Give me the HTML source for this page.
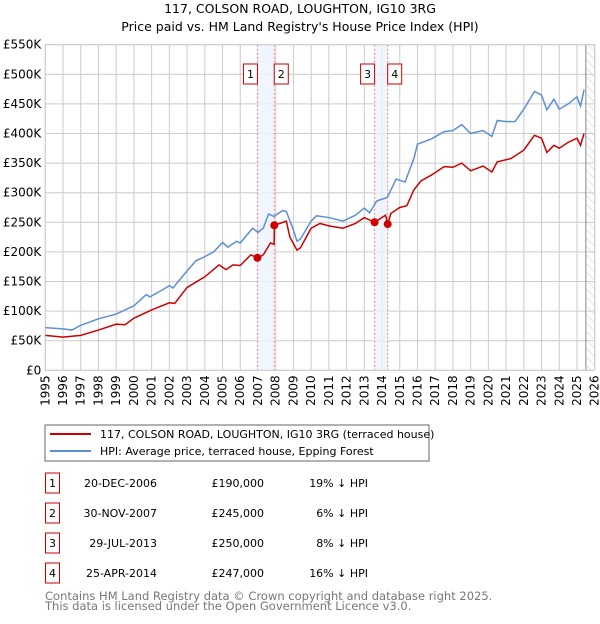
<!DOCTYPE html>
<html><head><meta charset="utf-8"><style>
body{margin:0;background:#fff;font-family:"DejaVu Sans","Liberation Sans",sans-serif;}
svg text{font-family:"DejaVu Sans","Liberation Sans",sans-serif;}
</style></head><body>
<svg id="c" width="600" height="620" xmlns="http://www.w3.org/2000/svg">
<defs><pattern id="hatch" width="6" height="6" patternUnits="userSpaceOnUse" patternTransform="rotate(-45)"><line x1="0" y1="0" x2="0" y2="6" stroke="#ccc" stroke-width="1"/></pattern></defs>
<text x="300" y="13" text-anchor="middle" font-size="12.5">117, COLSON ROAD, LOUGHTON, IG10 3RG</text>
<text x="300" y="31" text-anchor="middle" font-size="12.5">Price paid vs. HM Land Registry's House Price Index (HPI)</text>
<g id="plot"></g>
<rect x="45" y="425" width="384" height="36" fill="#fff" stroke="#666"/>
<line x1="50" y1="434" x2="91" y2="434" stroke="#cc0000" stroke-width="2"/>
<text x="100" y="438" font-size="11">117, COLSON ROAD, LOUGHTON, IG10 3RG (terraced house)</text>
<line x1="50" y1="451" x2="91" y2="451" stroke="#5b8fd6" stroke-width="2"/>
<text x="100" y="455" font-size="11">HPI: Average price, terraced house, Epping Forest</text>
<g id="tbl" font-size="11"></g>
<text x="45" y="600" font-size="11.5" fill="#777">Contains HM Land Registry data © Crown copyright and database right 2025.</text>
<text x="45" y="610" font-size="11.5" fill="#777">This data is licensed under the Open Government Licence v3.0.</text>
</svg>
<script>
const hpiYears=[1995,1996,1996.5,1997,1998,1999,2000,2000.7,2000.9,2001.5,2002,2002.2,2003,2003.5,2004,2004.5,2005,2005.3,2005.8,2006,2006.7,2007,2007.3,2007.6,2007.9,2008.4,2008.6,2009,2009.2,2009.4,2010,2010.3,2011,2011.8,2012.5,2013,2013.3,2013.7,2014.3,2014.8,2015.3,2015.8,2016,2016.8,2017.5,2018,2018.5,2019,2019.7,2020.2,2020.5,2021,2021.5,2022,2022.6,2023,2023.3,2023.7,2024,2024.5,2025,2025.2,2025.4];
const hpiValues=[72,70,68,76,87,95,109,128,124,134,143,139,168,185,192,200,216,208,218,215,240,233,240,264,260,270,268,237,218,222,252,261,258,252,262,274,266,286,292,323,318,358,382,391,403,405,415,400,405,395,422,420,420,441,471,465,440,458,441,450,462,446,474];
const priceYears=[1995,1996,1997,1998,1999,1999.5,2000,2001,2002,2002.3,2003,2004,2004.8,2005.2,2005.6,2006,2006.6,2006.97,2007.3,2007.7,2007.91,2007.93,2008.6,2008.8,2009.2,2009.4,2010,2010.5,2011,2011.8,2012.5,2013,2013.58,2014.2,2014.32,2014.5,2015,2015.4,2015.8,2016.2,2016.8,2017.5,2018,2018.5,2019,2019.7,2020.2,2020.5,2021.3,2022,2022.6,2023,2023.3,2023.7,2024,2024.5,2025,2025.2,2025.4];
const priceValues=[59,56,59,68,78,77,88,102,114,113,140,158,178,170,178,177,195,190,195,215,213,245,252,225,203,207,240,248,244,240,248,258,250,262,247,265,275,278,305,320,330,344,343,350,337,345,335,352,358,372,397,392,368,380,375,385,392,380,400];
const saleYears=[2006.97,2007.92,2013.58,2014.32];
const saleValues=[190,245,250,247];
const saleLabels=["1","2","3","4"];
const saleDates=["20-DEC-2006","30-NOV-2007","29-JUL-2013","25-APR-2014"];
const salePrices=["£190,000","£245,000","£250,000","£247,000"];
const saleHpi=["19% ↓ HPI","6% ↓ HPI","8% ↓ HPI","16% ↓ HPI"];
const yTicks=[0,50,100,150,200,250,300,350,400,450,500,550];
const xTicks=[1995,1996,1997,1998,1999,2000,2001,2002,2003,2004,2005,2006,2007,2008,2009,2010,2011,2012,2013,2014,2015,2016,2017,2018,2019,2020,2021,2022,2023,2024,2025,2026];

const NS="http://www.w3.org/2000/svg";
const X0=45.3,X1=594.7,Y0=370.3,Y1=44.7;
const xs=y=>X0+(y-1995)/(2026-1995)*(X1-X0);
const ys=v=>Y0-v/550*(Y0-Y1);
const plot=document.getElementById('plot');
function mk(tag,attrs,parent){const e=document.createElementNS(NS,tag);for(const k in attrs)e.setAttribute(k,attrs[k]);(parent||plot).appendChild(e);return e;}

let g=mk('g',{});


yTicks.forEach(t=>{mk('line',{x1:X0,x2:X1,y1:ys(t),y2:ys(t),stroke:'#ccc'},g);
 const tx=mk('text',{x:X0-4,y:ys(t)+4,'text-anchor':'end','font-size':'12'});tx.textContent='£'+(t===0?'0':t+'K');
 
 });
xTicks.forEach(t=>{mk('line',{x1:xs(t),x2:xs(t),y1:Y1,y2:Y0,stroke:'#ccc'},g);
 const tx=mk('text',{x:0,y:0,'font-size':'12','text-anchor':'end',transform:`translate(${xs(t)+4},${Y0+5}) rotate(-90)`});tx.textContent=t;
 
 });
// hatch future
const h=mk('rect',{x:xs(2025.5),y:Y1,width:X1-xs(2025.5),height:Y0-Y1,fill:'url(#hatch)'});


mk('line',{x1:xs(2025.5),x2:xs(2025.5),y1:Y1,y2:Y0,stroke:'#888'});
// bands
[[0,1],[2,3]].forEach(p=>{const b=mk('rect',{x:xs(saleYears[p[0]]),y:Y1,width:xs(saleYears[p[1]])-xs(saleYears[p[0]]),height:Y0-Y1,fill:'#eef3fc',opacity:0.8});
 
 });
saleYears.forEach(s=>mk('line',{x1:xs(s),x2:xs(s),y1:Y1,y2:Y0,stroke:'#f08080','stroke-dasharray':'2,2'}));
mk('rect',{x:X0,y:Y1,width:X1-X0,height:Y0-Y1,fill:'none',stroke:'#ccc'});
// lines
const bl=mk('polyline',{points:hpiYears.map((y,i)=>xs(y)+','+ys(hpiValues[i])).join(' '),fill:'none',stroke:'#5b8fd6','stroke-width':1.5});


const rl=mk('polyline',{points:priceYears.map((y,i)=>xs(y)+','+ys(priceValues[i])).join(' '),fill:'none',stroke:'#cc0000','stroke-width':1.5});


saleYears.forEach((s,i)=>{const c=mk('circle',{cx:xs(s),cy:ys(saleValues[i]),r:4,fill:'#cc0000'});
 
 
 const bx=i%2===0?xs(s)-14:xs(s);
 const r=mk('rect',{x:bx,y:64,width:14,height:20,fill:'#fff',stroke:'#cc0000'});
 
 
 const t=mk('text',{x:bx+7,y:78,'text-anchor':'middle','font-size':'11'});t.textContent=saleLabels[i];});
// table
const tbl=document.getElementById('tbl');
saleLabels.forEach((l,i)=>{const cy=483+i*30;
 const r=mk('rect',{x:45.5,y:cy-10,width:14,height:20,fill:'#fff',stroke:'#cc0000'},tbl);
 
 
 const a=mk('text',{x:52.5,y:cy+4,'text-anchor':'middle'},tbl);a.textContent=l;
 const d=mk('text',{x:157,y:cy+4,'text-anchor':'end'},tbl);d.textContent=saleDates[i];
 
 
 const p=mk('text',{x:264,y:cy+4,'text-anchor':'end'},tbl);p.textContent=salePrices[i];
 
 
 const q=mk('text',{x:368,y:cy+4,'text-anchor':'end'},tbl);q.textContent=saleHpi[i];
 
 });
</script>
</body></html>
